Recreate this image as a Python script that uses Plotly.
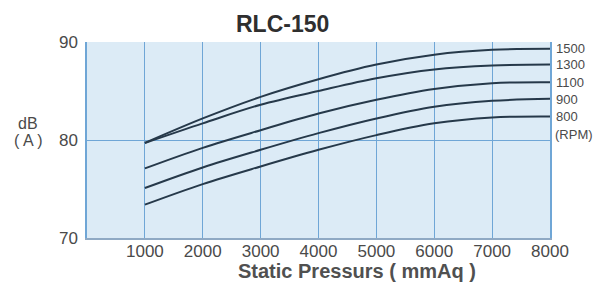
import plotly.graph_objects as go

pressure = [1000, 2000, 3000, 4000, 5000, 6000, 7000, 8000]
rpm_labels = ["1500", "1300", "1100", "900", "800"]
db_1500 = [79.7, 82.2, 84.4, 86.2, 87.7, 88.7, 89.2, 89.3]
db_1300 = [79.7, 81.7, 83.6, 85.0, 86.3, 87.2, 87.6, 87.7]
db_1100 = [77.1, 79.2, 81.0, 82.7, 84.1, 85.2, 85.8, 85.9]
db_900 = [75.1, 77.2, 79.0, 80.7, 82.2, 83.4, 84.0, 84.2]
db_800 = [73.4, 75.5, 77.3, 79.0, 80.5, 81.7, 82.3, 82.4]
series = [db_1500, db_1300, db_1100, db_900, db_800]

x_ticks = [1000, 2000, 3000, 4000, 5000, 6000, 7000, 8000]
y_ticks = [70, 80, 90]

line_color = "#26394a"
grid_color = "#6fa6d6"
text_color = "#4a4a4a"
FONT = "Liberation Sans, Arial"

fig = go.Figure()
for vals in series:
    fig.add_trace(go.Scatter(x=pressure, y=vals, mode="lines",
                             line=dict(color=line_color, width=2, shape="spline", smoothing=1.0),
                             showlegend=False, hoverinfo="skip"))

label_y = [89.3, 87.7, 85.9, 84.1, 82.4]
for lab, yv in zip(rpm_labels, label_y):
    fig.add_annotation(x=8000, y=yv, text=lab, xref="x", yref="y", xanchor="left",
                       yanchor="middle", xshift=4, showarrow=False,
                       font=dict(family=FONT, size=13, color=text_color))
fig.add_annotation(x=8000, y=label_y[-1] - 1.8, text="(RPM)", xref="x", yref="y",
                   xanchor="left", yanchor="middle", xshift=3, showarrow=False,
                   font=dict(family=FONT, size=13, color=text_color))

fig.add_annotation(x=0.423, y=1.0, xref="paper", yref="paper", xanchor="center",
                   yanchor="bottom", yshift=3,
                   text="<b>RLC-150</b>", showarrow=False,
                   font=dict(family=FONT, size=23, color="#2f2f2f"))
fig.add_annotation(x=-0.127, y=0.585, xref="paper", yref="paper", showarrow=False,
                   text="dB", xanchor="center", yanchor="middle",
                   font=dict(family=FONT, size=16, color=text_color))
fig.add_annotation(x=-0.127, y=0.50, xref="paper", yref="paper", showarrow=False,
                   text="( A )", xanchor="center", yanchor="middle",
                   font=dict(family=FONT, size=16, color=text_color))
fig.add_annotation(x=0.583, y=-0.17, xref="paper", yref="paper", xanchor="center",
                   yanchor="middle",
                   text="<b>Static Pressurs ( mmAq )</b>", showarrow=False,
                   font=dict(family=FONT, size=20, color="#505050"))

fig.update_xaxes(range=[0, 8000], tickvals=x_ticks, showgrid=True, gridcolor=grid_color,
                 gridwidth=1, zeroline=False, showline=True, linecolor="#8fa9c4", linewidth=1.5,
                 mirror=False, ticks="", ticklabelstandoff=-3,
                 tickfont=dict(family=FONT, size=17, color=text_color),
                 fixedrange=True)
fig.update_yaxes(range=[70, 90], tickvals=y_ticks, showgrid=True, gridcolor=grid_color,
                 gridwidth=1, zeroline=False, showline=True, linecolor=grid_color, linewidth=1.5,
                 mirror=True, ticks="", ticklabelstandoff=4,
                 tickfont=dict(family=FONT, size=17, color=text_color),
                 fixedrange=True)

fig.update_layout(width=599, height=282, margin=dict(l=87, r=49, t=42, b=44),
                  plot_bgcolor="#dcebf6", paper_bgcolor="white")

fig.write_html("out.html", config={"displayModeBar": False},
               post_script="document.body.style.margin='0';")
